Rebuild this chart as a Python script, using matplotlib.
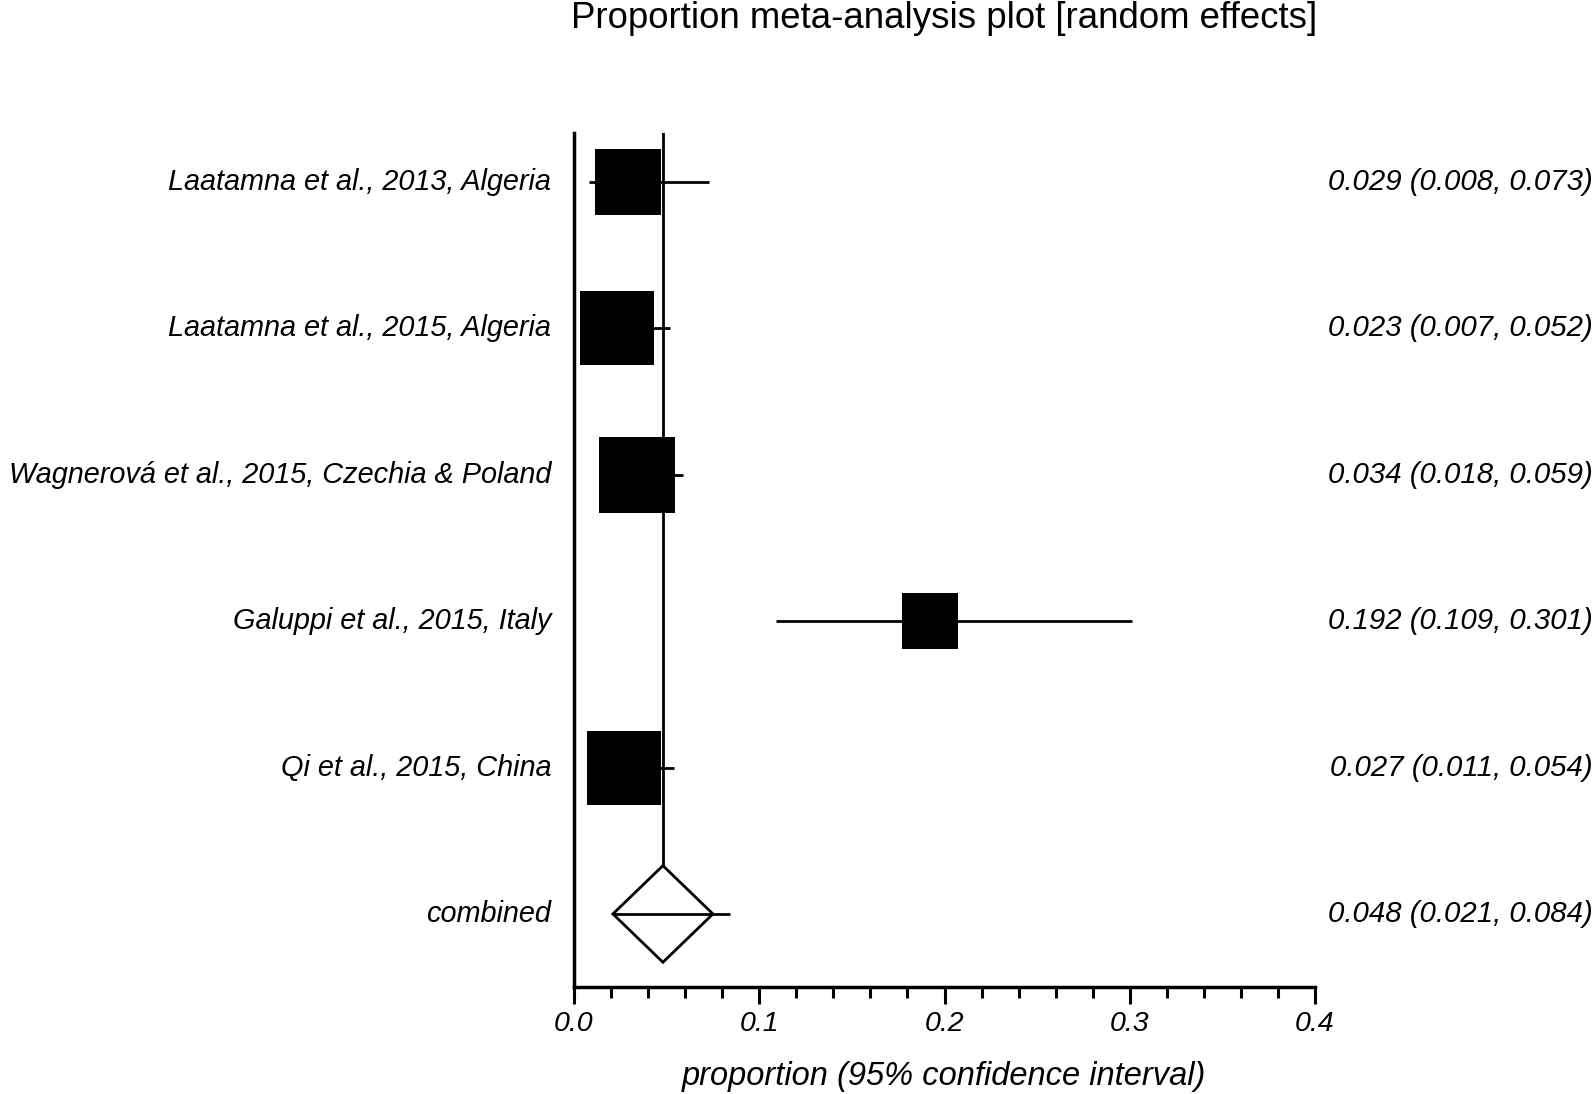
import numpy as np
import matplotlib
matplotlib.use('Agg')
import matplotlib.pyplot as plt
import matplotlib.transforms as mtransforms

plt.rcParams['font.family'] = ['Liberation Sans', 'DejaVu Sans']

studies = ['Laatamna et al., 2013, Algeria',
           'Laatamna et al., 2015, Algeria',
           'Wagnerová et al., 2015, Czechia & Poland',
           'Galuppi et al., 2015, Italy',
           'Qi et al., 2015, China']
est = [0.029, 0.023, 0.034, 0.192, 0.027]
lo = [0.008, 0.007, 0.018, 0.109, 0.011]
hi = [0.073, 0.052, 0.059, 0.301, 0.054]
weights = [18.4, 22.5, 23.8, 12.8, 22.5]   # % weight

pooled_est = 0.048
pooled_lo = 0.021
pooled_hi = 0.084

fig = plt.figure(figsize=(15.95, 10.94), dpi=100)
ax = fig.add_axes([574/1595, 107/1094, 741/1595, 854/1094])

ypos = np.arange(len(studies), 0, -1) + 1   # 6..2, combined at 1
ypool = 1
lw = 2.0

for y, e, l, h, w in zip(ypos, est, lo, hi, weights):
    ax.plot([l, h], [y, y], color='black', lw=lw, solid_capstyle='butt')
    ax.plot(e, y, marker='s', color='black', markeredgewidth=0,
            markersize=11.2 * np.sqrt(w))

# combined diamond
half = pooled_est - pooled_lo
ax.fill([pooled_est - half, pooled_est, pooled_est + half, pooled_est, pooled_est - half],
        [ypool, ypool + 0.33, ypool, ypool - 0.33, ypool],
        facecolor='white', edgecolor='black', lw=lw, zorder=3)
ax.plot([pooled_lo, pooled_hi], [ypool, ypool], color='black', lw=lw, zorder=4,
        solid_capstyle='butt')
ax.plot([pooled_est, pooled_est], [ypool + 0.33, 6.335], color='black', lw=lw)

ax.set_xlim(0, 0.4)
ax.set_ylim(0.501, 6.335)
ax.spines['top'].set_visible(False)
ax.spines['right'].set_visible(False)
ax.spines['left'].set_linewidth(2.5)
ax.spines['bottom'].set_linewidth(2.5)
ax.set_yticks([])
ax.set_xticks([0.0, 0.1, 0.2, 0.3, 0.4])
ax.set_xticks(np.arange(0, 0.4, 0.02), minor=True)
ax.set_xticklabels(['0.0', '0.1', '0.2', '0.3', '0.4'], fontstyle='italic', fontsize=20.5)
ax.tick_params(axis='x', which='major', length=12, width=2.2, pad=5)
ax.tick_params(axis='x', which='minor', length=8, width=2.2)

labels = studies + ['combined']
values = ['%.3f (%.3f, %.3f)' % t for t in zip(est, lo, hi)] + \
         ['%.3f (%.3f, %.3f)' % (pooled_est, pooled_lo, pooled_hi)]
ys = list(ypos) + [ypool]

trans_l = mtransforms.blended_transform_factory(ax.transAxes, ax.transData)
trans_r = mtransforms.blended_transform_factory(fig.transFigure, ax.transData)
for lab, val, y in zip(labels, values, ys):
    ax.annotate(lab, xy=(0, y), xycoords=trans_l, xytext=(-16.5, 0),
                textcoords='offset points', ha='right', va='center',
                fontsize=20.8, fontstyle='italic')
    ax.text(1593/1595, y, val, transform=trans_r, ha='right', va='center',
            fontsize=21.2, fontstyle='italic')

fig.text(944/1595, 1 - 1/1094, 'Proportion meta-analysis plot [random effects]',
         ha='center', va='top', fontsize=26.4)
fig.text(944/1595, 1 - 1076/1094, 'proportion (95% confidence interval)',
         ha='center', va='center', fontsize=23.5, fontstyle='italic')

fig.savefig('out.png', dpi=100)
